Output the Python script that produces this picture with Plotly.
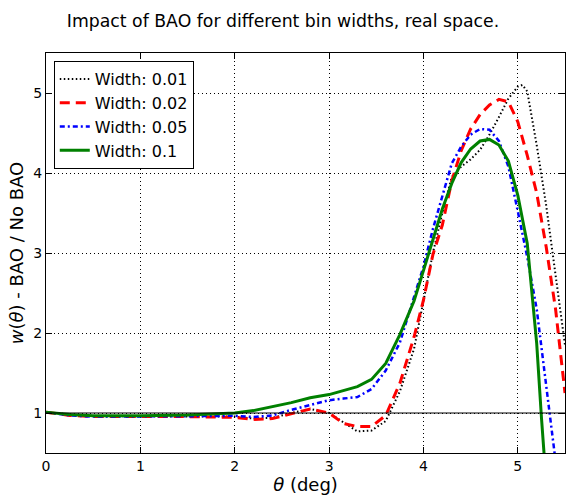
import plotly.graph_objects as go

# theta (deg) and w(theta) ratio BAO / No BAO for each bin width
x_w001 = [0.0, 0.25, 0.5, 1.0, 1.5, 2.0, 2.2, 2.4, 2.6, 2.8, 3.0, 3.15, 3.3, 3.45, 3.6, 3.75, 3.9, 4.0, 4.1, 4.2,
          4.3, 4.4, 4.5, 4.6, 4.7, 4.8, 4.9, 5.0, 5.05, 5.1, 5.2, 5.3, 5.4, 5.5]
y_w001 = [1.01, 0.98, 0.96, 0.96, 0.96, 0.955, 0.93, 0.94, 1.0, 1.05, 1.0, 0.88, 0.77, 0.78, 0.9, 1.27, 1.8, 2.4, 3.0, 3.5,
          3.95, 4.08, 4.17, 4.29, 4.48, 4.7, 4.93, 5.08, 5.1, 5.02, 4.35, 3.6, 2.75, 1.85]

x_w002 = [0.0, 0.25, 0.5, 1.0, 1.5, 2.0, 2.2, 2.4, 2.6, 2.8, 3.0, 3.15, 3.3, 3.45, 3.6, 3.75, 3.9, 4.0, 4.1, 4.2,
          4.3, 4.4, 4.5, 4.6, 4.7, 4.8, 4.9, 5.0, 5.1, 5.2, 5.3, 5.4, 5.5]
y_w002 = [1.01, 0.97, 0.955, 0.955, 0.955, 0.945, 0.92, 0.93, 0.99, 1.05, 1.0, 0.87, 0.83, 0.83, 0.97, 1.37, 1.95, 2.41, 2.98, 3.35,
          3.9, 4.28, 4.55, 4.73, 4.85, 4.92, 4.89, 4.64, 4.22, 3.75, 3.08, 2.3, 1.25]

x_w005 = [0.0, 0.25, 0.5, 1.0, 1.5, 2.0, 2.2, 2.4, 2.6, 2.8, 3.0, 3.15, 3.3, 3.45, 3.6, 3.75, 3.9, 4.0, 4.1, 4.2,
          4.3, 4.4, 4.5, 4.6, 4.7, 4.8, 4.9, 5.0, 5.1, 5.2, 5.3, 5.4]
y_w005 = [1.01, 0.97, 0.955, 0.955, 0.96, 0.965, 0.95, 0.97, 1.04, 1.1, 1.16, 1.18, 1.2, 1.3, 1.53, 1.88, 2.45, 2.83, 3.3, 3.72,
          4.12, 4.33, 4.48, 4.55, 4.54, 4.4, 4.08, 3.52, 2.95, 2.3, 1.37, 0.4]

x_w01 = [0.0, 0.25, 0.5, 1.0, 1.5, 2.0, 2.2, 2.4, 2.6, 2.8, 3.0, 3.15, 3.3, 3.45, 3.6, 3.75, 3.9, 4.0, 4.1, 4.2,
         4.3, 4.4, 4.5, 4.6, 4.7, 4.8, 4.9, 5.0, 5.1, 5.16, 5.2, 5.25, 5.29]
y_w01 = [1.01, 0.98, 0.965, 0.965, 0.975, 1.0, 1.03, 1.08, 1.13, 1.19, 1.23, 1.28, 1.33, 1.42, 1.62, 1.98, 2.4, 2.78, 3.15, 3.55,
         3.87, 4.13, 4.3, 4.4, 4.42, 4.35, 4.15, 3.72, 3.12, 2.41, 1.87, 0.95, 0.3]

series = [
    ("Width: 0.01", x_w001, y_w001, "black", "1.5px,2.5px", 2),
    ("Width: 0.02", x_w002, y_w002, "red", "10px,6px", 3),
    ("Width: 0.05", x_w005, y_w005, "blue", "5px,3px,2px,3px", 2.5),
    ("Width: 0.1", x_w01, y_w01, "green", "solid", 3),
]

fig = go.Figure()
for name, xs, ys, color, dash, lw in series:
    fig.add_trace(go.Scatter(x=xs, y=ys, mode="lines", name=name,
                             line=dict(color=color, dash=dash, width=lw)))

# reference line at ratio = 1
fig.add_shape(type="line", xref="paper", yref="y", x0=0, x1=1, y0=1, y1=1,
              line=dict(color="black", width=1), layer="above")

axis_common = dict(
    showline=True, linecolor="black", linewidth=1, mirror="ticks",
    ticks="inside", ticklen=6, tickcolor="black",
    showgrid=True, gridcolor="black", gridwidth=1, griddash="1px,3px",
    zeroline=False, tickfont=dict(size=14, color="black"),
    automargin=False,
)

fig.update_layout(
    width=566, height=496,
    paper_bgcolor="white", plot_bgcolor="white",
    font=dict(family="DejaVu Sans", color="black"),
    title=dict(text="Impact of BAO for different bin widths, real space.",
               x=0.5, xanchor="center", y=0.957, yanchor="middle",
               font=dict(size=17.3)),
    margin=dict(l=46, r=1, t=53, b=43),
    showlegend=True,
    legend=dict(x=0.015, y=0.98, xanchor="left", yanchor="top",
                bordercolor="black", borderwidth=1, bgcolor="white",
                font=dict(size=16), tracegroupgap=0, itemwidth=30),
    xaxis=dict(range=[0, 5.5], tickvals=[0, 1, 2, 3, 4, 5],
               title=dict(text="<i>θ</i> (deg)", font=dict(size=18), standoff=4),
               **axis_common),
    yaxis=dict(range=[0.5, 5.5], tickvals=[1, 2, 3, 4, 5],
               title=dict(text="<i>w</i>(<i>θ</i>) - BAO / No BAO", font=dict(size=18), standoff=4),
               **axis_common),
)

# drop the default page margin so the figure sits at the window's corner
fig.write_html("out.html", config={"displayModeBar": False},
               post_script="document.body.style.margin='0';")
